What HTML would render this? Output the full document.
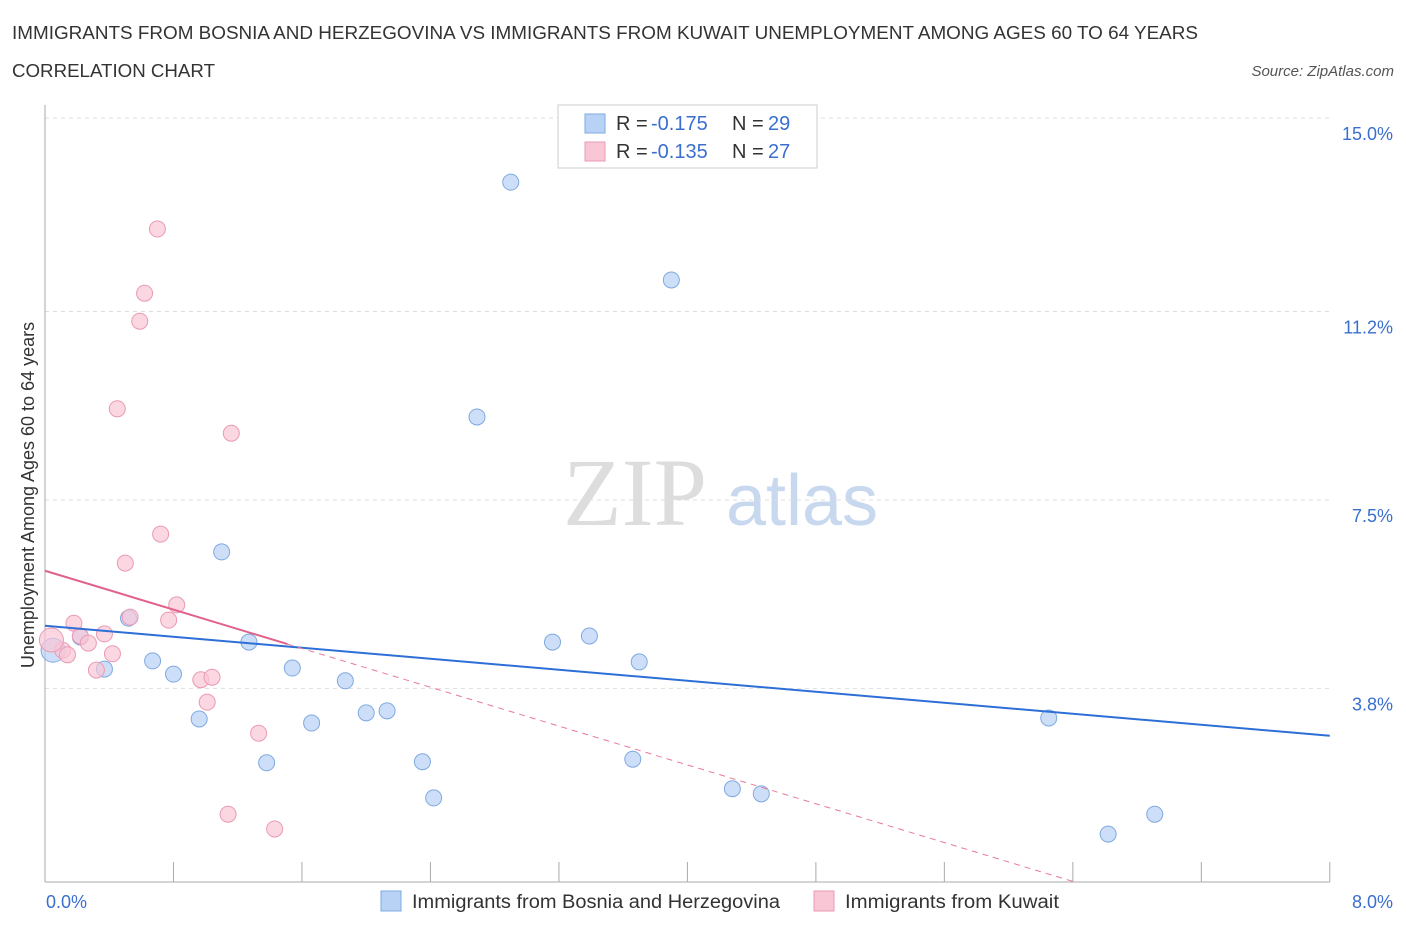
<!DOCTYPE html>
<html><head><meta charset="utf-8"><style>
body{margin:0;background:#fff;font-family:"Liberation Sans",sans-serif;}
svg{display:block}
</style></head><body>
<svg id="chart" width="1406" height="930">
<text x="12" y="39" font-size="18" fill="#333" textLength="1186" lengthAdjust="spacingAndGlyphs">IMMIGRANTS FROM BOSNIA AND HERZEGOVINA VS IMMIGRANTS FROM KUWAIT UNEMPLOYMENT AMONG AGES 60 TO 64 YEARS</text>
<text x="12" y="77" font-size="18" fill="#333" textLength="203" lengthAdjust="spacingAndGlyphs">CORRELATION CHART</text>
<text x="1394" y="76" font-size="15" fill="#555" font-style="italic" text-anchor="end">Source: ZipAtlas.com</text>
<text x="635" y="525" font-size="96" fill="#ddd" font-family="Liberation Serif,serif" text-anchor="middle">ZIP</text>
<text x="802" y="525" font-size="72" fill="#c8d8ee" text-anchor="middle">atlas</text>
<text transform="translate(34,495) rotate(-90)" font-size="18" fill="#333" text-anchor="middle">Unemployment Among Ages 60 to 64 years</text>
<g id="grid"></g><g id="marks"></g>
<g>
<rect x="558" y="105" width="259" height="63" fill="#fff" stroke="#ccc"/>
<rect x="585" y="114" width="20" height="19" fill="#b8d2f5" stroke="#7fa9e0"/>
<rect x="585" y="142" width="20" height="19" fill="#f9c6d6" stroke="#eb9ab3"/>
<text x="616" y="130" font-size="20" fill="#333">R =</text>
<text x="651" y="130" font-size="20" fill="#3a6fd0">-0.175</text>
<text x="732" y="130" font-size="20" fill="#333">N =</text>
<text x="768" y="130" font-size="20" fill="#3a6fd0">29</text>
<text x="616" y="158" font-size="20" fill="#333">R =</text>
<text x="651" y="158" font-size="20" fill="#3a6fd0">-0.135</text>
<text x="732" y="158" font-size="20" fill="#333">N =</text>
<text x="768" y="158" font-size="20" fill="#3a6fd0">27</text>
</g>
<g>
<rect x="381" y="891" width="20" height="20" fill="#b8d2f5" stroke="#7fa9e0"/>
<text x="412" y="908" font-size="19" fill="#333" textLength="368" lengthAdjust="spacingAndGlyphs">Immigrants from Bosnia and Herzegovina</text>
<rect x="814" y="891" width="20" height="20" fill="#f9c6d6" stroke="#eb9ab3"/>
<text x="845" y="908" font-size="19" fill="#333" textLength="214" lengthAdjust="spacingAndGlyphs">Immigrants from Kuwait</text>
</g>
</svg>
<script>
const yTicks=[15.0,11.2,7.5,3.8];
const yTickLabels=["15.0%","11.2%","7.5%","3.8%"];
const xTickLabels=["0.0%","8.0%"];
const blueX=[2.90,3.90,2.69,1.10,0.52,1.27,0.67,0.80,1.54,0.37,0.22,0.05,1.87,0.96,1.66,2.00,2.13,1.38,2.35,2.42,3.16,3.39,3.70,3.66,4.28,4.46,6.25,6.62,6.91];
const blueY=[13.74,11.82,9.13,6.48,5.18,4.71,4.34,4.08,4.20,4.18,4.81,4.55,3.95,3.20,3.12,3.32,3.36,2.34,2.36,1.65,4.71,4.83,4.32,2.41,1.83,1.73,3.22,0.94,1.33];
const pinkX=[0.70,0.62,0.59,0.45,1.16,0.72,0.50,0.82,0.53,0.77,0.18,0.37,0.22,0.27,0.11,0.14,0.42,0.32,0.97,1.04,1.01,1.33,1.14,1.43,0.04];
const pinkY=[12.82,11.56,11.01,9.29,8.81,6.83,6.26,5.44,5.20,5.14,5.08,4.87,4.83,4.69,4.55,4.46,4.48,4.16,3.97,4.02,3.53,2.92,1.33,1.04,4.75];
const blueTrend=[5.03,2.87];
const pinkTrend=[6.11,-0.953];
const X=v=>45+v*160.6, Y=v=>118+(15-v)*50.93;
const NS="http://www.w3.org/2000/svg";
function mk(tag,attrs,parent){const e=document.createElementNS(NS,tag);for(const k in attrs)e.setAttribute(k,attrs[k]);parent.appendChild(e);return e;}
const g=document.getElementById('grid'), m=document.getElementById('marks');
yTicks.forEach((t,i)=>{
 const l=mk('line',{x1:45,x2:1330,y1:Y(t),y2:Y(t),stroke:'#ddd','stroke-dasharray':'4,4'},g);
 
 
 const tx=mk('text',{x:1393,y:Y(t)+22,'font-size':18,fill:'#3a6fd0','text-anchor':'end'},g);
 tx.textContent=yTickLabels[i];
 
 
});
const ax=mk('line',{x1:45,x2:45,y1:105,y2:882,stroke:'#aaa'},g);


const bx=mk('line',{x1:45,x2:1330,y1:882,y2:882,stroke:'#aaa'},g);


for(let i=0;i<=10;i++){
 const t=mk('line',{x1:X(i*0.8),x2:X(i*0.8),y1:862,y2:882,stroke:'#aaa'},g);
 
 
}
[[0,46,'start'],[8,1393,'end']].forEach((a,i)=>{
 const tx=mk('text',{x:a[1],y:908,'font-size':18,fill:'#3a6fd0','text-anchor':a[2]},g);
 tx.textContent=xTickLabels[i];
 
 
});
blueX.forEach((x,i)=>{
 const c=mk('circle',{cx:X(x),cy:Y(blueY[i]),r:i==11?12:8,fill:'#b8d2f5','fill-opacity':0.7,stroke:'#7fa9e0'},m);
 
 
});
pinkX.forEach((x,i)=>{
 const c=mk('circle',{cx:X(x),cy:Y(pinkY[i]),r:i==24?12:8,fill:'#f9c6d6','fill-opacity':0.7,stroke:'#eb9ab3'},m);
 
 
});
const bl=mk('line',{x1:X(0),y1:Y(blueTrend[0]),x2:X(8),y2:Y(blueTrend[1]),stroke:'#2d6fd6','stroke-width':2},m);


const pe=-pinkTrend[0]/pinkTrend[1];
const pd=mk('line',{x1:X(1.51),y1:Y(pinkTrend[0]+pinkTrend[1]*1.51),x2:X(pe),y2:Y(0),stroke:'#e8799c','stroke-width':1,'stroke-dasharray':'6,5'},m);


const pl=mk('line',{x1:X(0),y1:Y(pinkTrend[0]),x2:X(1.51),y2:Y(pinkTrend[0]+pinkTrend[1]*1.51),stroke:'#e0628b','stroke-width':2},m);


</script>
</body></html>
